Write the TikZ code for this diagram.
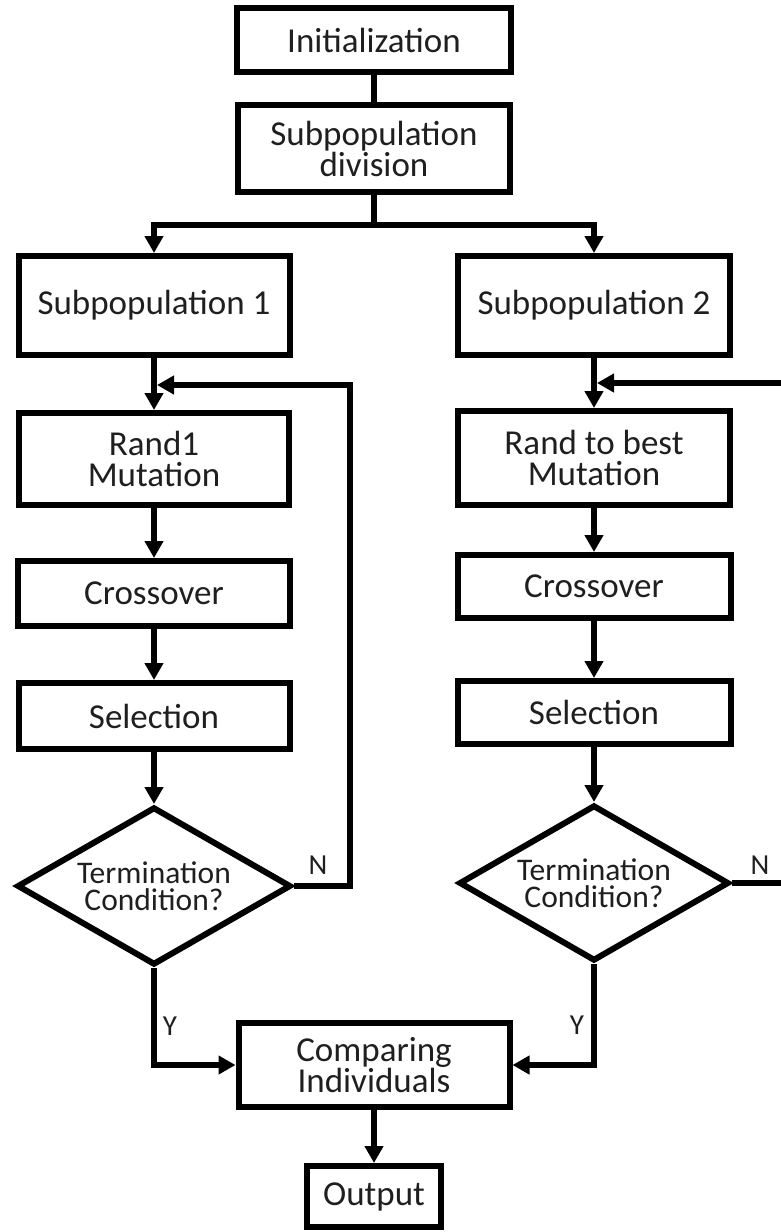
\documentclass[tikz,border=0pt]{standalone}
\usepackage{fontspec}
\setmainfont{Carlito}
\usetikzlibrary{shapes.geometric,arrows.meta}
\begin{document}
\begin{tikzpicture}[x=1pt,y=-1pt,
  box/.style={draw=black,line width=6pt,fill=white,inner sep=0pt,align=center,
    font=\fontsize{35}{31}\selectfont,text=black!88},
  dec/.style={draw=black,diamond,shape aspect=1.75,line width=6pt,fill=white,inner sep=0pt,align=center,
    font=\fontsize{31.5}{27}\selectfont,text=black!88},
  conn/.style={draw=black,line width=5.5pt},
  arr/.style={conn,-{Triangle[length=17pt,width=18pt]}},
  lbl/.style={font=\fontsize{29}{29}\selectfont,text=black!88,inner sep=0pt}]
\useasboundingbox (0,0) rectangle (781,1232);
\clip (0,0) rectangle (781,1232);
\fill[white] (0,0) rectangle (781,1232);

% nodes
\node[box,minimum width=274pt,minimum height=64pt] (init) at (374,40) {Initialization};
\node[box,minimum width=272pt,minimum height=87pt] (div) at (374,148.5) {Subpopulation\\division};
\node[box,minimum width=271pt,minimum height=99pt] (sub1) at (154,305.5) {Subpopulation 1};
\node[box,minimum width=272pt,minimum height=99pt] (sub2) at (594,305.5) {Subpopulation 2};
\node[box,minimum width=270pt,minimum height=92pt] (rand1) at (154,459) {Rand1\\Mutation};
\node[box,minimum width=272pt,minimum height=94pt] (rand2) at (594,458) {Rand to best\\Mutation};
\node[box,minimum width=272pt,minimum height=65pt] (cross1) at (154,593.5) {Crossover};
\node[box,minimum width=273pt,minimum height=63pt] (cross2) at (594,586.5) {Crossover};
\node[box,minimum width=271pt,minimum height=66pt] (sel1) at (154,716) {Selection};
\node[box,minimum width=273pt,minimum height=63pt] (sel2) at (594,712.5) {Selection};
\node[dec,minimum width=274pt,minimum height=158pt] (dia1) at (154,886) {Termination\\Condition?};
\node[dec,minimum width=270pt,minimum height=156pt] (dia2) at (594,883) {Termination\\Condition?};
\node[box,minimum width=271pt,minimum height=84pt] (comp) at (374,1065) {Comparing\\Individuals};
\node[box,minimum width=134pt,minimum height=61pt] (out) at (374,1196.5) {Output};

% helper coordinates
\coordinate (split) at (374,225);
\coordinate (fb1) at (350,385);
\coordinate (m1) at (157,385);
\coordinate (ex2) at (800,883);
\coordinate (ey2) at (800,383);
\coordinate (m2) at (597,383);

% connectors
\draw[conn] (init.south) -- (div.north);
\draw[conn] (div.south) -- (split);
\draw[arr] (split) -| (sub1.north);
\draw[arr] (split) -| (sub2.north);
\draw[arr] (sub1.south) -- (rand1.north);
\draw[arr] (sub2.south) -- (rand2.north);
\draw[arr] (rand1.south) -- (cross1.north);
\draw[arr] (rand2.south) -- (cross2.north);
\draw[arr] (cross1.south) -- (sel1.north);
\draw[arr] (cross2.south) -- (sel2.north);
\draw[arr] (sel1.south) -- (dia1.north);
\draw[arr] (sel2.south) -- (dia2.north);
\draw[arr] (dia1.east) -| (fb1) -- (m1);
\draw[conn] (dia2.east) -- (ex2);
\draw[arr] (ey2) -- (m2);
\draw[arr] (dia1.south) |- (comp.west);
\draw[arr] (dia2.south) |- (comp.east);
\draw[arr] (comp.south) -- (out.north);

% labels
\node[lbl] (n1) at (318,865) {N};
\node[lbl] (n2) at (760,865) {N};
\node[lbl] (y1) at (170,1026) {Y};
\node[lbl] (y2) at (577,1025) {Y};
\end{tikzpicture}
\end{document}
